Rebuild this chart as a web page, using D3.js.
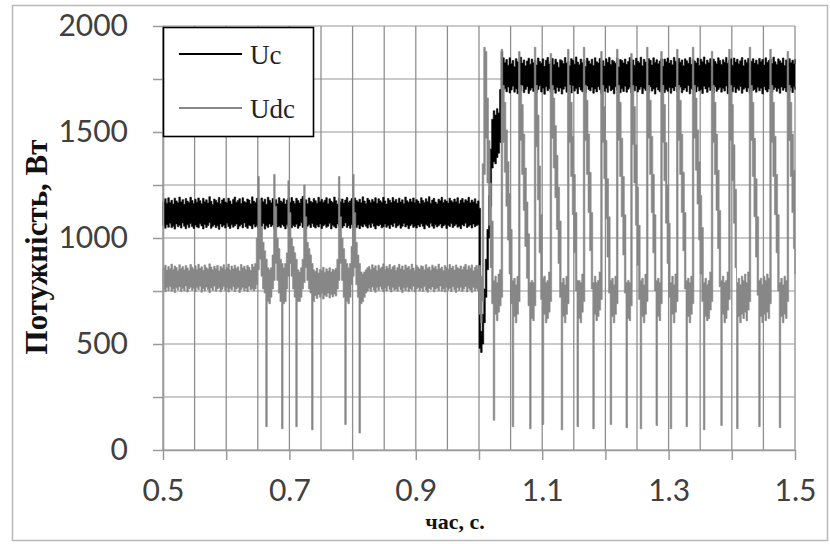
<!DOCTYPE html>
<html>
<head>
<meta charset="utf-8">
<script src="https://cdn.jsdelivr.net/npm/d3@7"></script>
<style>
  html, body { margin: 0; padding: 0; background: #fff; }
  svg { display: block; }
</style>
</head>
<body>
<svg id="chart" width="830" height="544"></svg>
<script>
// Sampling grid of the recorded traces (seconds); each sample stores the
// min/max of the signal inside its 2.5 ms bucket, oscilloscope-style.
const tStart = 0.5;
const tStep = 0.0025;

// Uc, W — lower envelope per bucket
const ucLo = [
  1058,1046,1063,1051,1070,1049,1055,1042,1066,1053,1060,1047,1071,1056,1044,1062,1050,1068,1054,1045,
  1061,1052,1048,1067,1057,1043,1064,1050,1059,1072,1046,1055,1063,1049,1058,1041,1066,1053,1060,1047,
  1069,1054,1045,1062,1051,1058,1066,1043,1056,1064,1048,1071,1053,1046,1060,1057,1044,1065,1052,1059,
  1047,1063,1055,1068,1042,1058,1050,1066,1054,1061,1045,1070,1052,1057,1049,1064,1056,1043,1062,1051,
  1067,1048,1059,1053,1065,1046,1057,1072,1050,1061,1044,1056,1063,1049,1068,1054,1047,1060,1052,1066,
  1045,1058,1064,1051,1056,1069,1043,1060,1053,1047,1066,1055,1062,1048,1057,1071,1050,1059,1046,1063,
  1054,1067,1049,1061,1044,1058,1052,1065,1056,1047,1062,1050,1069,1055,1043,1060,1057,1064,1048,1053,
  1066,1051,1059,1045,1063,1054,1070,1049,1057,1062,1046,1055,1068,1052,1060,1044,1058,1065,1050,1056,
  1047,1061,1053,1067,1055,1043,1064,1058,1050,1069,1056,1046,1062,1052,1059,1066,1048,1057,1063,1045,
  1060,1054,1068,1049,1058,1065,1051,1056,1044,1063,1057,1070,1050,1055,1061,1047,1066,1053,1059,1062,
  480,460,500,600,720,850,1000,1150,1330,1360,1350,1380,1400,1450,1620,1700,
  1705,1690,1712,1684,1698,1716,1688,1703,1680,1709,1694,1720,1686,1701,1714,1682,1697,1708,1691,1711,
  1685,1700,1718,1689,1706,1678,1713,1695,1704,1687,1716,1699,1683,1710,1692,1707,1679,1702,1715,1688,
  1696,1709,1684,1719,1693,1705,1681,1712,1698,1690,1708,1686,1717,1700,1694,1711,1683,1703,1689,1714,
  1699,1682,1710,1692,1706,1687,1718,1695,1701,1680,1713,1697,1708,1685,1704,1691,1716,1688,1702,1711,
  1684,1707,1694,1717,1689,1700,1712,1681,1705,1696,1709,1687,1714,1693,1703,1679,1711,1698,1690,1706,
  1718,1686,1701,1692,1710,1683,1707,1695,1715,1688,1702,1712,1685,1698,1708,1691,1719,1680,1704,1697,
  1709,1689,1713,1694,1700,1682,1716,1703,1687,1711,1696,1706,1684,1714,1692,1701,1710,1688,1705,1693,
  1717,1681,1708,1699,1690,1712,1686,1704,1697,1715,1683,1702,1709,1691,1707,1685,1713,1696,1700,1688,
  1711,1694,1706,1680,1714,1698,1689,1703,1716,1687,1701,1710,1692,1705,1683,1712,1697,1708,1690,1704,
  1695,1709,1686,1713,1700
];

// Uc, W — upper envelope per bucket
const ucHi = [
  1172,1185,1164,1190,1168,1178,1160,1188,1175,1166,1193,1170,1181,1159,1186,1174,1167,1192,1177,1163,
  1183,1169,1189,1176,1161,1187,1171,1180,1165,1195,1173,1158,1184,1178,1168,1191,1162,1179,1186,1170,
  1166,1188,1175,1160,1182,1193,1169,1177,1185,1163,1190,1172,1167,1184,1179,1161,1194,1174,1168,1187,
  1176,1164,1189,1171,1183,1159,1192,1178,1166,1186,1173,1181,1162,1190,1175,1169,1185,1160,1179,1188,
  1168,1191,1174,1163,1187,1177,1165,1184,1196,1170,1180,1161,1189,1173,1167,1186,1176,1164,1192,1171,
  1182,1169,1178,1190,1162,1185,1174,1167,1193,1176,1160,1188,1171,1184,1165,1179,1191,1168,1175,1186,
  1163,1189,1177,1170,1183,1166,1194,1174,1161,1187,1179,1168,1182,1172,1190,1164,1185,1176,1169,1192,
  1175,1160,1186,1178,1167,1191,1173,1182,1165,1188,1170,1180,1162,1193,1176,1169,1184,1171,1189,1166,
  1181,1174,1163,1190,1177,1168,1185,1172,1195,1164,1179,1187,1170,1161,1183,1176,1192,1167,1180,1173,
  1165,1188,1176,1169,1184,1171,1190,1163,1178,1186,1168,1181,1174,1192,1166,1179,1170,1185,1162,1175,
  1140,560,640,760,900,1040,1200,1420,1560,1600,1580,1610,1590,1700,1880,1850,
  1828,1842,1815,1850,1822,1837,1808,1846,1831,1819,1853,1825,1840,1812,1835,1848,1820,1844,1827,1838,
  1816,1849,1832,1824,1845,1810,1839,1852,1821,1834,1847,1818,1843,1829,1806,1841,1836,1823,1851,1826,
  1833,1813,1846,1838,1820,1854,1830,1817,1844,1827,1840,1809,1848,1835,1822,1843,1814,1850,1831,1825,
  1847,1821,1836,1811,1845,1829,1852,1818,1839,1833,1824,1849,1807,1842,1837,1826,1844,1819,1832,1851,
  1823,1840,1815,1848,1834,1827,1853,1812,1843,1830,1820,1846,1838,1816,1850,1828,1841,1822,1835,1845,
  1810,1844,1831,1849,1825,1838,1817,1852,1834,1821,1847,1829,1840,1813,1845,1836,1824,1851,1819,1842,
  1835,1826,1848,1814,1843,1831,1854,1820,1839,1827,1846,1811,1844,1833,1822,1850,1837,1818,1841,1829,
  1852,1824,1838,1845,1815,1849,1830,1843,1822,1836,1851,1812,1840,1828,1847,1819,1834,1846,1825,1839,
  1820,1847,1833,1842,1816,1850,1829,1837,1844,1823,1853,1831,1818,1845,1836,1826,1849,1814,1840,1832,
  1846,1827,1839,1821,1843
];

// Udc, W — lower envelope per bucket
const udcLo = [
  758,746,767,752,771,749,760,743,765,755,770,748,762,751,774,745,759,768,753,763,
  747,766,756,772,744,761,750,769,757,742,764,754,773,749,760,767,746,758,771,752,
  765,745,762,755,770,748,759,766,743,757,768,751,763,747,772,756,761,750,
  760,780,850,900,820,760,740,110,700,690,720,760,800,880,800,740,700,100,690,700,
  760,820,880,820,760,720,110,700,700,720,760,790,860,800,760,740,95,700,
  728,715,734,720,738,712,730,724,740,717,733,722,736,726,
  760,800,880,800,720,120,700,690,720,780,820,860,780,720,80,690,700,720,740,750,
  762,748,769,755,744,766,752,771,758,746,764,750,773,757,745,767,754,760,749,770,
  756,743,765,751,768,747,761,753,772,745,759,766,750,763,748,771,755,744,762,757,
  769,746,758,764,751,773,749,760,745,767,754,762,747,770,756,743,765,752,768,748,
  759,771,746,763,755,744,767,750,761,753,
  640,600,700,1300,1470,1260,1060,860,690,140,
  640,610,650,680,720,1450,1310,1150,990,830,
  690,110,630,600,640,700,1460,1300,1130,960,
  810,680,100,620,610,680,1430,1180,930,710,
  120,640,600,620,650,700,1470,1330,1190,1040,
  880,720,95,630,600,640,690,1450,1290,1110,
  930,750,110,620,600,650,700,1460,1300,1120,
  940,760,100,640,610,630,660,710,1450,1280,
  1090,910,740,120,630,600,640,690,1460,1290,
  1100,920,740,105,620,610,680,1440,1260,1060,
  870,710,100,630,600,640,700,1470,1300,1120,
  930,750,115,630,610,690,1450,1270,1070,880,
  720,100,640,600,650,700,1460,1300,1120,940,
  760,110,630,600,640,690,1470,1320,1160,990,
  830,700,95,630,610,620,660,700,1450,1300,
  1130,950,770,115,640,600,620,660,710,1460,
  1270,1070,860,100,630,600,640,620,650,610,
  660,700,1460,1290,1100,910,730,110,630,600,
  640,610,650,620,690,1450,1290,1110,930,750,
  105,630,600,640,620,700,1460,1290,1120,950,
  830
];

// Udc, W — upper envelope per bucket
const udcHi = [
  858,872,849,866,855,877,852,868,861,847,874,856,865,850,870,859,846,875,862,853,
  869,851,876,857,864,848,873,860,854,878,863,850,867,856,871,845,866,858,874,852,
  861,877,849,868,855,872,857,864,846,875,859,867,851,870,862,848,876,863,
  880,1000,1290,1180,1050,980,940,900,860,850,860,920,1300,1150,1000,950,900,880,860,880,
  930,1270,1120,1000,960,930,900,850,840,860,900,1250,1100,980,950,920,880,850,
  842,858,835,851,846,862,838,855,844,860,840,853,848,857,
  900,1290,1100,1000,950,900,880,860,880,960,1300,1120,980,920,880,840,830,840,850,860,
  866,851,874,859,869,847,872,856,863,878,850,867,857,875,853,864,870,848,861,876,
  855,868,849,873,860,866,852,877,858,846,871,862,854,869,865,850,874,857,863,848,
  872,859,866,851,877,856,863,847,870,861,853,875,858,867,849,873,860,855,868,852,
  864,876,850,869,857,873,846,862,871,855,
  870,820,1350,1900,1880,1660,1460,1260,1080,800,
  820,790,830,850,1890,1720,1640,1510,1360,1210,
  1040,800,810,780,820,1880,1720,1630,1490,1330,
  1170,1020,790,800,790,1900,1720,1580,1340,1110,
  810,820,790,800,840,1870,1720,1660,1530,1390,
  1240,1080,790,810,780,820,1890,1720,1640,1480,
  1300,1120,800,800,790,830,1900,1720,1650,1490,
  1310,1120,790,820,790,800,840,1880,1720,1620,
  1460,1280,1100,800,810,780,820,1890,1720,1640,
  1470,1290,1110,790,800,790,1870,1720,1620,1440,
  1240,1060,800,810,780,830,1900,1720,1650,1480,
  1300,1110,800,810,790,1880,1720,1630,1450,1250,
  1070,790,820,780,830,1890,1720,1650,1490,1310,
  1120,800,810,790,820,1900,1720,1660,1510,1360,
  1200,1050,790,810,780,800,840,1880,1720,1640,
  1490,1320,1130,800,820,790,800,840,1890,1720,
  1630,1440,1230,790,810,780,820,800,830,790,
  840,1900,1720,1640,1470,1280,1100,800,810,780,
  820,800,830,810,1890,1720,1640,1480,1300,1110,
  790,810,780,820,800,1880,1720,1640,1490,1320,
  1200
];

const seriesNames = ["Uc", "Udc"];
const seriesColors = ["#000000", "#878787"];
const yGridTicks = [0, 250, 500, 750, 1000, 1250, 1500, 1750, 2000];
const yLabelTicks = [0, 500, 1000, 1500, 2000];
const xLabelTicks = [0.5, 0.7, 0.9, 1.1, 1.3, 1.5];
const xMajorTicks = [0.5, 0.6, 0.7, 0.8, 0.9, 1.0, 1.1, 1.2, 1.3, 1.4, 1.5];
const xGridTicks = [0.5, 0.55, 0.6, 0.65, 0.7, 0.75, 0.8, 0.85, 0.9, 0.95, 1.0,
                    1.05, 1.1, 1.15, 1.2, 1.25, 1.3, 1.35, 1.4, 1.45, 1.5];
const yAxisTitle = "Потужність, Вт";
const xAxisTitle = "час, с.";

const plot = { left: 163, right: 795, top: 26, bottom: 450 };

const x = d3.scaleLinear().domain([0.5, 1.5]).range([plot.left, plot.right]);
const y = d3.scaleLinear().domain([0, 2000]).range([plot.bottom, plot.top]);

const svg = d3.select("#chart");

// chart frame
svg.append("rect")
  .attr("x", 12.5).attr("y", 5.5)
  .attr("width", 815).attr("height", 535)
  .attr("fill", "#fff")
  .attr("stroke", "#b8b8b8").attr("stroke-width", 1.5);

// gridlines
const grid = svg.append("g");
grid.selectAll("line.h").data(yGridTicks).join("line")
  .attr("class", "h")
  .attr("x1", plot.left).attr("x2", plot.right)
  .attr("y1", d => y(d)).attr("y2", d => y(d))
  .attr("stroke", "#b8b8b8").attr("stroke-width", 1.7);
grid.selectAll("line.v").data(xGridTicks).join("line")
  .attr("class", "v")
  .attr("x1", d => x(d)).attr("x2", d => x(d))
  .attr("y1", plot.top).attr("y2", plot.bottom)
  .attr("stroke", "#8f8f8f").attr("stroke-width", 1.3);

// traces
function traceData(lo, hi) {
  const n = Math.min(lo.length, hi.length);
  return d3.range(n).map(i => ({ t: tStart + i * tStep, lo: lo[i], hi: hi[i] }));
}
const traces = [traceData(ucLo, ucHi), traceData(udcLo, udcHi)];
const area = d3.area()
  .x(d => x(d.t))
  .y0(d => y(d.lo))
  .y1(d => y(d.hi))
  .curve(d3.curveStepAfter);

svg.append("g").selectAll("path").data(traces).join("path")
  .attr("d", area)
  .attr("fill", (d, i) => seriesColors[i])
  .attr("stroke", (d, i) => seriesColors[i])
  .attr("stroke-width", 0.6);

// axes
const axisColor = "#9a9a9a";
const tickFont = "Lato, 'Open Sans', sans-serif";

const yAxis = svg.append("g")
  .attr("transform", `translate(${plot.left},0)`)
  .call(d3.axisLeft(y).tickValues(yGridTicks).tickSize(10).tickSizeOuter(0).tickPadding(25)
    .tickFormat(d => yLabelTicks.includes(d) ? d3.format("d")(d) : ""));
const xAxis = svg.append("g")
  .attr("transform", `translate(0,${plot.bottom})`)
  .call(d3.axisBottom(x).tickValues(xMajorTicks).tickSize(10).tickSizeOuter(0).tickPadding(20)
    .tickFormat(d => xLabelTicks.some(v => Math.abs(v - d) < 1e-9) ? d3.format(".1f")(d) : ""));

[yAxis, xAxis].forEach(g => {
  g.select(".domain").attr("stroke", axisColor).attr("stroke-width", 1.6);
  g.selectAll(".tick line").attr("stroke", axisColor).attr("stroke-width", 1.5);
  g.selectAll(".tick text")
    .attr("fill", "#404040")
    .style("font-family", tickFont)
    .style("font-size", "30px");
});

// axis titles
svg.append("text")
  .attr("transform", "translate(47,247) rotate(-90)")
  .attr("text-anchor", "middle")
  .style("font-family", "'Liberation Serif', 'Times New Roman', serif")
  .style("font-weight", "bold")
  .style("font-size", "31px")
  .attr("fill", "#111")
  .text(yAxisTitle);

svg.append("text")
  .attr("x", 455).attr("y", 529)
  .attr("text-anchor", "middle")
  .style("font-family", "'Liberation Serif', 'Times New Roman', serif")
  .style("font-weight", "bold")
  .style("font-size", "22px")
  .attr("fill", "#111")
  .text(xAxisTitle);

// legend
const legend = svg.append("g");
legend.append("rect")
  .attr("x", 163.5).attr("y", 27.5)
  .attr("width", 150).attr("height", 109)
  .attr("fill", "#fff")
  .attr("stroke", "#000").attr("stroke-width", 1.6);
const legendRows = [54, 108];
seriesNames.forEach((name, i) => {
  legend.append("line")
    .attr("x1", 179).attr("x2", 242)
    .attr("y1", legendRows[i]).attr("y2", legendRows[i])
    .attr("stroke", seriesColors[i]).attr("stroke-width", 2);
  legend.append("text")
    .attr("x", 250).attr("y", legendRows[i] + 10)
    .style("font-family", "'Liberation Serif', 'Times New Roman', serif")
    .style("font-size", "27px")
    .attr("fill", "#222")
    .text(name);
});
</script>
</body>
</html>
